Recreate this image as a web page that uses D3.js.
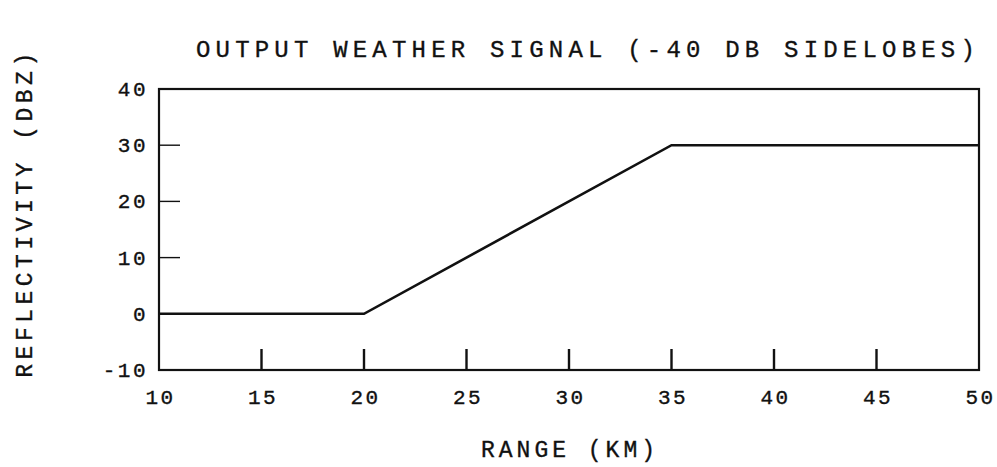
<!DOCTYPE html>
<html>
<head>
<meta charset="utf-8">
<script src="https://cdn.jsdelivr.net/npm/d3@7"></script>
<style>
  body { margin: 0; background: #fff; }
  text { font-family: "Liberation Mono", "DejaVu Sans Mono", monospace; fill: #111; stroke: #111; stroke-width: 0.35px; }
</style>
</head>
<body>
<svg width="997" height="467"></svg>
<script>
// data
const rangeKm = [10, 20, 35, 50];
const dbz = [0, 0, 30, 30];
const xTicks = [10, 15, 20, 25, 30, 35, 40, 45, 50];
const yTicks = [-10, 0, 10, 20, 30, 40];

const svg = d3.select('svg');
const margin = {top: 89, right: 18, bottom: 97, left: 159};
const width = +svg.attr('width');
const height = +svg.attr('height');
const innerWidth = width - margin.left - margin.right;
const innerHeight = height - margin.top - margin.bottom;

const x = d3.scaleLinear().domain([10, 50]).range([0, innerWidth]);
const y = d3.scaleLinear().domain([-10, 40]).range([innerHeight, 0]);

const g = svg.append('g').attr('transform', `translate(${margin.left},${margin.top})`);

// frame
g.append('rect')
  .attr('width', innerWidth).attr('height', innerHeight)
  .attr('fill', 'none').attr('stroke', '#111').attr('stroke-width', 2.2);

// x ticks (pointing up from bottom), interior only
g.selectAll('.xtick')
  .data(xTicks.filter(d => d > 10 && d < 50))
  .enter().append('line')
  .attr('x1', d => x(d)).attr('x2', d => x(d))
  .attr('y1', innerHeight).attr('y2', innerHeight - 21)
  .attr('stroke', '#111').attr('stroke-width', 2.4);

// y ticks (pointing right from left)
g.selectAll('.ytick')
  .data(yTicks.filter(d => d > -10 && d < 40))
  .enter().append('line')
  .attr('x1', 0).attr('x2', 21)
  .attr('y1', d => y(d)).attr('y2', d => y(d))
  .attr('stroke', '#111').attr('stroke-width', 1.4);

// tick labels
g.selectAll('.xlab')
  .data(xTicks)
  .enter().append('text')
  .attr('x', d => x(d) + 1.5).attr('y', innerHeight + 34)
  .attr('text-anchor', 'middle')
  .style('font-size', '21px').style('letter-spacing', '2.5px')
  .text(d => d);

g.selectAll('.ylab')
  .data(yTicks)
  .enter().append('text')
  .attr('x', -11).attr('y', d => y(d) + 7)
  .attr('text-anchor', 'end')
  .style('font-size', '21px').style('letter-spacing', '2.5px')
  .text(d => d);

// signal line
const line = d3.line().x((d, i) => x(rangeKm[i])).y(d => y(d));
g.append('path')
  .datum(dbz)
  .attr('d', line)
  .attr('fill', 'none').attr('stroke', '#111').attr('stroke-width', 2.6);

// titles
svg.append('text')
  .attr('x', 588).attr('y', 57)
  .attr('text-anchor', 'middle')
  .style('font-size', '24px').style('letter-spacing', '5.2px')
  .text('OUTPUT WEATHER SIGNAL (-40 DB SIDELOBES)');

svg.append('text')
  .attr('x', 570).attr('y', 457)
  .attr('text-anchor', 'middle')
  .style('font-size', '23px').style('letter-spacing', '4px')
  .text('RANGE (KM)');

svg.append('text')
  .attr('transform', 'translate(32,213) rotate(-90)')
  .attr('text-anchor', 'middle')
  .style('font-size', '23px').style('letter-spacing', '4.5px')
  .text('REFLECTIVITY (DBZ)');
</script>
</body>
</html>
